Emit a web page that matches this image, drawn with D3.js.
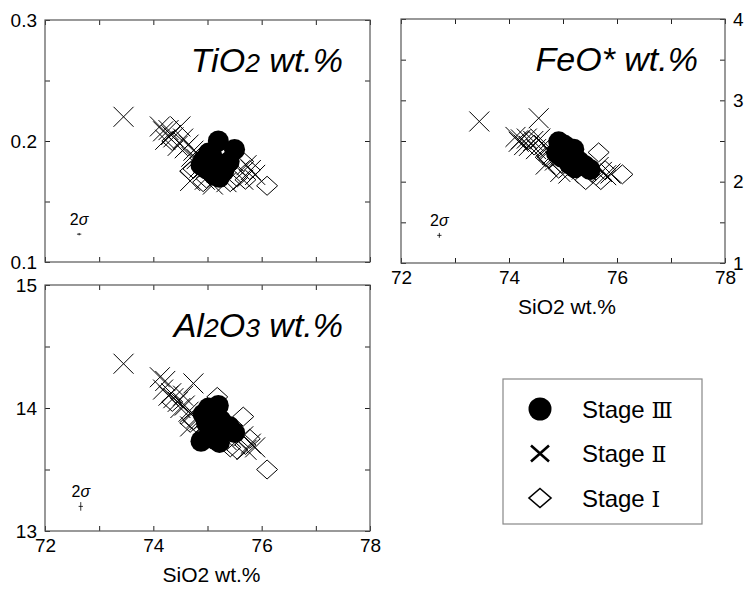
<!DOCTYPE html>
<html>
<head>
<meta charset="utf-8">
<script src="https://cdn.jsdelivr.net/npm/d3@7"></script>
<style>
  body { margin: 0; background: #fff; }
  text { font-family: "Liberation Sans", Arial, sans-serif; fill: #000; }
</style>
</head>
<body>
<script>
// Stage I (diamonds)
var stage1Si = [76.10, 75.66, 75.78, 75.42, 74.98, 74.68, 75.55, 75.18, 75.70, 74.35, 74.74, 74.92];
var stage1Ti = [0.163, 0.183, 0.176, 0.166, 0.169, 0.175, 0.170, 0.190, 0.168, 0.200, 0.177, 0.166];
var stage1Fe = [2.09, 2.36, 2.14, 2.02, 2.22, 2.30, 2.10, 2.40, 2.02, 2.51, 2.28, 2.16];
var stage1Al = [13.50, 13.93, 13.75, 13.68, 13.80, 13.88, 13.66, 14.09, 13.70, 14.05, 13.90, 13.78];

// Stage II (crosses)
var stage2Si = [73.45, 74.12, 74.18, 74.22, 74.28, 74.33, 74.37, 74.45, 74.50, 74.55, 74.58, 74.65,
                74.70, 74.74, 74.80, 74.85, 74.68, 74.95, 75.10, 75.35, 75.66, 75.72, 75.80, 75.88];
var stage2Ti = [0.220, 0.212, 0.208, 0.201, 0.209, 0.205, 0.203, 0.196, 0.212, 0.202, 0.194, 0.197,
                0.187, 0.192, 0.185, 0.178, 0.167, 0.168, 0.164, 0.166, 0.168, 0.180, 0.176, 0.172];
var stage2Fe = [2.74, 2.55, 2.49, 2.52, 2.45, 2.53, 2.44, 2.50, 2.40, 2.78, 2.53, 2.45,
                2.41, 2.38, 2.33, 2.26, 2.21, 2.12, 2.10, 2.15, 2.18, 2.12, 2.08, 2.10];
var stage2Al = [14.36, 14.25, 14.15, 14.22, 14.10, 14.12, 14.08, 14.05, 14.00, 14.10, 14.02, 13.97,
                13.95, 14.20, 13.92, 13.90, 13.85, 13.83, 13.76, 13.74, 13.77, 13.66, 13.71, 13.68];

// Stage III (filled circles)
var stage3Si = [75.20, 75.50, 74.92, 74.98, 75.25, 75.22, 75.40, 75.08, 74.88, 75.10, 75.30, 75.12, 75.02];
var stage3Ti = [0.200, 0.193, 0.184, 0.177, 0.180, 0.170, 0.183, 0.188, 0.180, 0.178, 0.175, 0.172, 0.190];
var stage3Fe = [2.40, 2.15, 2.49, 2.30, 2.25, 2.17, 2.20, 2.42, 2.35, 2.30, 2.25, 2.22, 2.45];
var stage3Al = [14.02, 13.80, 13.95, 13.88, 13.90, 13.72, 13.85, 13.98, 13.73, 13.85, 13.80, 13.75, 14.00];

// 2 sigma error marks: [x, y, error x, error y]
var sigmaTi = [72.63, 0.123, 0.04, 0.001];
var sigmaFe = [72.71, 1.34, 0.04, 0.03];
var sigmaAl = [72.66, 13.20, 0.04, 0.035];

// axes
var xDomain = [72, 78];
var xTicks = [72, 73, 74, 75, 76, 77, 78];
var xLabels = [72, 74, 76, 78];
var tiTicks = [0.1, 0.15, 0.2, 0.25, 0.3], tiLabels = [0.1, 0.2, 0.3];
var feTicks = [1, 1.5, 2, 2.5, 3, 3.5, 4], feLabels = [1, 2, 3, 4];
var alTicks = [13, 13.5, 14, 14.5, 15], alLabels = [13, 14, 15];

var legendNames = ["Stage ", "Stage ", "Stage "];
var legendNumerals = ["Ⅲ", "Ⅱ", "Ⅰ"];
var legendSymbols = ["circle", "cross", "diamond"];

var width = 753, height = 590;
var svg = d3.select("body").append("svg")
    .attr("width", width)
    .attr("height", height);

function crossPath(h) {
    return "M" + (-h) + "," + (-h) + "L" + h + "," + h + "M" + (-h) + "," + h + "L" + h + "," + (-h);
}
function diamondPath(w, h) {
    return "M0," + (-h) + "L" + w + ",0L0," + h + "L" + (-w) + ",0Z";
}

var panels = [
    {left: 45, top: 20, w: 325, h: 242, yDomain: [0.1, 0.3], yTicks: tiTicks, yLabels: tiLabels,
     ys: [stage1Ti, stage2Ti, stage3Ti], sigma: sigmaTi, labelSide: "left", xLabel: false,
     title: [["Ti", 1], ["O", 1], ["2", 0.78], [" wt.%", 1]]},
    {left: 401, top: 19, w: 324, h: 244, yDomain: [1, 4], yTicks: feTicks, yLabels: feLabels,
     ys: [stage1Fe, stage2Fe, stage3Fe], sigma: sigmaFe, labelSide: "right", xLabel: true,
     title: [["FeO* wt.%", 1]]},
    {left: 45, top: 285, w: 325, h: 246, yDomain: [13, 15], yTicks: alTicks, yLabels: alLabels,
     ys: [stage1Al, stage2Al, stage3Al], sigma: sigmaAl, labelSide: "left", xLabel: true,
     title: [["Al", 1], ["2", 0.78], ["O", 1], ["3", 0.78], [" wt.%", 1]]}
];

panels.forEach(function(p){
    var g = svg.append("g").attr("transform", "translate(" + p.left + "," + p.top + ")");

    var x = d3.scaleLinear().domain(xDomain).range([0, p.w]);
    var y = d3.scaleLinear().domain(p.yDomain).range([p.h, 0]);

    var fmtX = function(d){ return (p.xLabel && xLabels.indexOf(d) >= 0) ? d : ""; };
    var fmtY = function(d){ return p.yLabels.indexOf(d) >= 0 ? d : ""; };
    var blank = function(){ return ""; };

    var axes = [
        {gen: d3.axisBottom(x).tickValues(xTicks).tickFormat(fmtX), t: "translate(0," + p.h + ")"},
        {gen: d3.axisTop(x).tickValues(xTicks).tickFormat(blank), t: "translate(0,0)"},
        {gen: d3.axisLeft(y).tickValues(p.yTicks).tickFormat(p.labelSide == "left" ? fmtY : blank), t: "translate(0,0)"},
        {gen: d3.axisRight(y).tickValues(p.yTicks).tickFormat(p.labelSide == "right" ? fmtY : blank), t: "translate(" + p.w + ",0)"}
    ];
    axes.forEach(function(a){
        var ag = g.append("g")
            .attr("class", "axis")
            .attr("transform", a.t)
            .call(a.gen.tickSizeInner(-5).tickSizeOuter(0).tickPadding(8));
        ag.select(".domain").remove();
        ag.selectAll("line").attr("stroke", "#222");
        ag.selectAll("text")
            .style("font-family", "'Liberation Sans', Arial, sans-serif")
            .style("font-size", "19px")
            .attr("fill", "#000");
    });

    // frame
    g.append("rect")
        .attr("width", p.w)
        .attr("height", p.h)
        .attr("fill", "none")
        .attr("stroke", "#555")
        .attr("stroke-width", 1.2);

    // stage I diamonds
    g.selectAll(".s1").data(stage1Si).enter().append("path")
        .attr("class", "s1")
        .attr("transform", function(d, i){ return "translate(" + x(d) + "," + y(p.ys[0][i]) + ")"; })
        .attr("d", diamondPath(10.5, 9.5))
        .attr("fill", "none")
        .attr("stroke", "#000")
        .attr("stroke-width", 1);

    // stage II crosses
    g.selectAll(".s2").data(stage2Si).enter().append("path")
        .attr("class", "s2")
        .attr("transform", function(d, i){ return "translate(" + x(d) + "," + y(p.ys[1][i]) + ")"; })
        .attr("d", crossPath(10))
        .attr("fill", "none")
        .attr("stroke", "#000")
        .attr("stroke-width", 1);

    // stage III circles
    g.selectAll(".s3").data(stage3Si).enter().append("circle")
        .attr("class", "s3")
        .attr("cx", function(d){ return x(d); })
        .attr("cy", function(d, i){ return y(p.ys[2][i]); })
        .attr("r", 10.5)
        .attr("fill", "#000");

    // 2 sigma mark
    var s = p.sigma;
    var sx = x(s[0]), sy = y(s[1]);
    g.append("line")
        .attr("x1", x(s[0] - s[2])).attr("x2", x(s[0] + s[2]))
        .attr("y1", sy).attr("y2", sy)
        .attr("stroke", "#000").attr("stroke-width", 0.8);
    g.append("line")
        .attr("x1", sx).attr("x2", sx)
        .attr("y1", Math.max(y(s[1] - s[3]), sy + 1)).attr("y2", Math.min(y(s[1] + s[3]), sy - 1))
        .attr("stroke", "#000").attr("stroke-width", 0.8);
    var st = g.append("text")
        .attr("x", sx)
        .attr("y", sy - 9)
        .attr("text-anchor", "middle")
        .style("font-size", "16px");
    st.append("tspan").text("2");
    st.append("tspan").style("font-style", "italic").text("σ");

    // title
    var tt = g.append("text")
        .attr("x", p.w - 27)
        .attr("y", 52)
        .attr("text-anchor", "end")
        .style("font-size", "34px")
        .style("font-style", "italic");
    p.title.forEach(function(part){
        tt.append("tspan")
            .style("font-size", (34 * part[1]) + "px")
            .text(part[0]);
    });

    if (p.xLabel) {
        g.append("text")
            .attr("x", p.w / 2 + 4)
            .attr("y", p.h + 51)
            .attr("text-anchor", "middle")
            .style("font-size", "21px")
            .text("SiO2 wt.%");
    }
});

// legend
var legend = svg.append("g").attr("transform", "translate(503,379)");
legend.append("rect")
    .attr("width", 199)
    .attr("height", 145)
    .attr("fill", "#fff")
    .attr("stroke", "#888")
    .attr("stroke-width", 1.2);

var rowY = d3.scalePoint().domain(d3.range(legendNames.length)).range([30, 119]);

legendSymbols.forEach(function(sym, i){
    var cy = rowY(i);
    if (sym == "circle") {
        legend.append("circle").attr("cx", 37).attr("cy", cy).attr("r", 11.5).attr("fill", "#000");
    } else if (sym == "cross") {
        legend.append("path")
            .attr("transform", "translate(37," + cy + ")")
            .attr("d", "M-9,-8L9,8M-9,8L9,-8")
            .attr("stroke", "#000").attr("stroke-width", 2.6).attr("fill", "none");
    } else {
        legend.append("path")
            .attr("transform", "translate(37," + cy + ")")
            .attr("d", diamondPath(11, 9.5))
            .attr("stroke", "#000").attr("stroke-width", 1.6).attr("fill", "none");
    }
    var t = legend.append("text")
        .attr("x", 79)
        .attr("y", cy)
        .attr("dy", "0.36em")
        .style("font-size", "24px");
    t.append("tspan").text(legendNames[i]);
    t.append("tspan")
        .style("font-family", "'DejaVu Serif', 'Liberation Serif', serif")
        .style("font-size", "22px")
        .text(legendNumerals[i]);
});
</script>
</body>
</html>
